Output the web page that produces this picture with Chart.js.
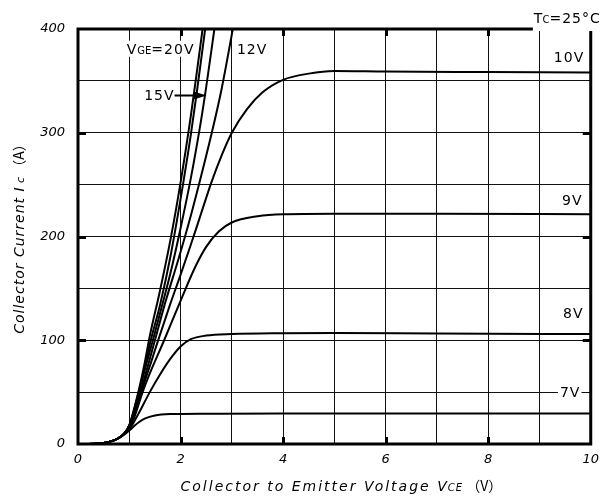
<!DOCTYPE html>
<html>
<head>
<meta charset="utf-8">
<script src="https://cdn.jsdelivr.net/npm/chart.js@4.4.1/dist/chart.umd.min.js"></script>
<style>
  html, body { margin: 0; padding: 0; background: #fff; }
  #wrap { width: 607px; height: 498px; }
</style>
</head>
<body>
<div id="wrap"><canvas id="ic-vce" width="607" height="498"></canvas></div>
<script>
// Ic - Vce output characteristics, one curve per gate voltage
const xTicks = [0, 2, 4, 6, 8, 10];
const yTicks = [0, 100, 200, 300, 400];

const vce20 = [0, 0.4, 0.6, 0.7, 0.8, 0.9, 1.0, 1.1, 1.2, 1.3, 1.4, 1.6, 1.8, 2.0, 2.2, 2.3, 2.43];
const ic20  = [0, 0.5, 2, 3.5, 6, 10, 18, 35, 55, 78, 104, 148, 196, 252, 316, 352, 400];

const vce17 = [0, 0.4, 0.6, 0.7, 0.8, 0.9, 1.0, 1.1, 1.2, 1.3, 1.42, 1.6, 1.8, 2.0, 2.2, 2.32, 2.48];
const ic17  = [0, 0.5, 2, 3.5, 6, 10, 18, 34, 53, 74, 100, 134, 180, 236, 298, 340, 400];

const vce15 = [0, 0.4, 0.6, 0.7, 0.8, 0.9, 1.0, 1.1, 1.2, 1.3, 1.46, 1.6, 1.8, 2.0, 2.2, 2.4, 2.5, 2.66];
const ic15  = [0, 0.5, 2, 3.5, 6, 10, 18, 33, 51, 71, 100, 126, 164, 208, 256, 312, 344, 400];

const vce12 = [0, 0.4, 0.6, 0.7, 0.8, 0.9, 1.0, 1.1, 1.2, 1.3, 1.5, 1.7, 1.97, 2.2, 2.4, 2.6, 2.8, 3.02];
const ic12  = [0, 0.5, 2, 3.5, 6, 10, 17, 31, 47, 64, 100, 136, 180, 220, 258, 298, 342, 400];

const vce10 = [0, 0.4, 0.6, 0.7, 0.8, 0.9, 1.0, 1.1, 1.2, 1.3, 1.42, 1.55, 1.8, 2.0, 2.2, 2.4, 2.6, 2.8, 3.0, 3.3, 3.6, 4.0, 4.5, 5.0, 6.0, 8.0, 10];
const ic10  = [0, 0.5, 2, 3.5, 6, 10, 16, 28, 43, 60, 78, 98, 135, 163, 192, 222, 252, 278, 300, 323, 339, 351, 357, 359.5, 359, 358.5, 358];

const vce9 = [0, 0.4, 0.6, 0.7, 0.8, 0.9, 1.0, 1.1, 1.26, 1.4, 1.68, 2.0, 2.3, 2.5, 2.75, 3.0, 3.5, 4.0, 5.0, 7.0, 10];
const ic9  = [0, 0.5, 2, 3.5, 6, 10, 15, 26, 50, 68, 100, 138, 172, 190, 205, 213.5, 219.5, 221.5, 222, 222, 221.5];

const vce8 = [0, 0.4, 0.6, 0.7, 0.8, 0.9, 1.0, 1.1, 1.2, 1.4, 1.6, 1.8, 2.0, 2.2, 2.5, 3.0, 4.0, 5.0, 7.0, 10];
const ic8  = [0, 0.5, 2, 3.5, 6, 9.5, 14, 22, 31, 50, 67, 82, 94, 101, 104.5, 106, 106.8, 107, 106.5, 106];

const vce7 = [0, 0.4, 0.6, 0.7, 0.8, 0.9, 1.0, 1.1, 1.2, 1.3, 1.5, 1.8, 2.5, 4.0, 10];
const ic7  = [0, 0.5, 2, 3.5, 6, 9, 13, 17.5, 21.5, 24.5, 27.5, 28.8, 29.2, 29.5, 29.5];

const gateVoltages = ['20V', '17V', '15V', '12V', '10V', '9V', '8V', '7V'];
const curves = [
  [vce20, ic20], [vce17, ic17], [vce15, ic15], [vce12, ic12],
  [vce10, ic10], [vce9, ic9], [vce8, ic8], [vce7, ic7]
];

const FONT = '"DejaVu Sans"';
const CJK = '"Noto Sans CJK JP"';

// text pieces with their own fonts, laid out along one baseline
function runsWidth(ctx, runs) {
  let w = 0;
  runs.forEach(r => {
    ctx.font = r.font;
    ctx.letterSpacing = r.spacing || '0px';
    r.w = ctx.measureText(r.text).width;
    w += r.w;
  });
  return w;
}
function drawRuns(ctx, runs, x, y, align) {
  const total = runsWidth(ctx, runs);
  let cx = align === 'center' ? x - total / 2 : align === 'right' ? x - total : x;
  runs.forEach(r => {
    ctx.font = r.font;
    ctx.letterSpacing = r.spacing || '0px';
    ctx.fillText(r.text, cx, y);
    cx += r.w;
  });
  ctx.letterSpacing = '0px';
  return total;
}

const big = `14px ${FONT}`;
const small = `10px ${FONT}`;
const sp = '1px';

// curve labels, anchored at (vce, ic): left edge / vertical middle
const notes = [
  { at: [0.95, 381], runs: [{ text: 'V', font: big, spacing: sp }, { text: 'GE', font: small }, { text: '=20V', font: big, spacing: sp }] },
  { at: [1.29, 336], runs: [{ text: '15V', font: big, spacing: sp }], arrowTo: 2.51 },
  { at: [3.10, 381], runs: [{ text: '12V', font: big, spacing: sp }] },
  { at: [9.28, 373], runs: [{ text: '10V', font: big, spacing: sp }] },
  { at: [9.44, 235], runs: [{ text: '9V', font: big, spacing: sp }] },
  { at: [9.46, 126], runs: [{ text: '8V', font: big, spacing: sp }] },
  { at: [9.40, 50], runs: [{ text: '7V', font: big, spacing: sp }] }
];

const decorations = {
  id: 'decorations',
  afterDatasetsDraw(chart) {
    const { ctx, chartArea: a, scales: { x, y } } = chart;
    ctx.save();

    // heavy frame
    ctx.strokeStyle = '#000';
    ctx.lineWidth = 3;
    ctx.strokeRect(a.left, a.top, a.right - a.left, a.bottom - a.top);

    // inward tick marks at labelled values
    ctx.beginPath();
    xTicks.slice(1, -1).forEach(v => {
      const px = Math.round(x.getPixelForValue(v)) + 0.5;
      ctx.moveTo(px, a.bottom); ctx.lineTo(px, a.bottom - 7);
      ctx.moveTo(px, a.top); ctx.lineTo(px, a.top + 7);
    });
    yTicks.slice(1, -1).forEach(v => {
      const py = Math.round(y.getPixelForValue(v)) + 0.5;
      ctx.moveTo(a.left, py); ctx.lineTo(a.left + 8, py);
      ctx.moveTo(a.right, py); ctx.lineTo(a.right - 8, py);
    });
    ctx.stroke();

    // curve labels on white
    ctx.textBaseline = 'alphabetic';
    ctx.fillStyle = '#000';
    notes.forEach(n => {
      const lx = x.getPixelForValue(n.at[0]);
      const ly = y.getPixelForValue(n.at[1]);
      const w = runsWidth(ctx, n.runs);
      ctx.fillStyle = '#fff';
      ctx.fillRect(lx - 2, ly - 8, w + 3, 16);
      ctx.fillStyle = '#000';
      drawRuns(ctx, n.runs, lx, ly + 5, 'left');
      if (n.arrowTo !== undefined) {
        const ax = x.getPixelForValue(n.arrowTo);
        const y0 = Math.round(ly) + 0.5;
        ctx.lineWidth = 2;
        ctx.beginPath();
        ctx.moveTo(lx + w, y0);
        ctx.lineTo(ax - 8, y0);
        ctx.stroke();
        ctx.beginPath();
        ctx.moveTo(ax, y0);
        ctx.lineTo(ax - 13, y0 - 4);
        ctx.lineTo(ax - 13, y0 + 4);
        ctx.closePath();
        ctx.fill();
      }
    });

    // case temperature, sitting over the top-right of the frame
    const tc = [{ text: 'T', font: big }, { text: 'C', font: small }, { text: '=25°C', font: big, spacing: sp }];
    const tw = runsWidth(ctx, tc);
    const tRight = a.right + 10;
    ctx.fillStyle = '#fff';
    ctx.fillRect(tRight - tw - 1, a.top - 22, tw + 8, 24);
    ctx.fillStyle = '#000';
    drawRuns(ctx, tc, tRight, a.top - 6, 'right');

    // axis titles
    const it = `italic 14px ${FONT}`;
    const itSmall = `italic 10px ${FONT}`;
    const paren = `14px ${CJK}`;
    drawRuns(ctx, [
      { text: 'Collector to Emitter Voltage ', font: it, spacing: '2px' },
      { text: 'V', font: it, spacing: '1px' },
      { text: 'CE', font: itSmall, spacing: '1px' },
      { text: ' （V）', font: paren }
    ], (a.left + a.right) / 2 + 7, 491, 'center');

    ctx.translate(24, (a.top + a.bottom) / 2 - 1);
    ctx.rotate(-Math.PI / 2);
    drawRuns(ctx, [
      { text: 'Collector Current ', font: it, spacing: '1px' },
      { text: 'I ', font: it },
      { text: 'c', font: `italic 11px ${FONT}` },
      { text: ' （A）', font: paren }
    ], 0, 0, 'center');

    ctx.restore();
  }
};

const tickFont = { family: FONT, style: 'italic', size: 13 };

new Chart(document.getElementById('ic-vce'), {
  type: 'line',
  data: {
    datasets: curves.map(([v, i], k) => ({
      label: gateVoltages[k],
      data: v.map((vx, j) => ({ x: vx, y: i[j] })),
      borderColor: '#000',
      borderWidth: 2,
      pointRadius: 0,
      fill: false,
      cubicInterpolationMode: 'monotone'
    }))
  },
  options: {
    responsive: false,
    animation: false,
    events: [],
    layout: { padding: { top: 29, right: 11, left: 0, bottom: 0 } },
    plugins: { legend: { display: false }, tooltip: { enabled: false } },
    scales: {
      x: {
        type: 'linear',
        min: 0,
        max: 10,
        ticks: {
          stepSize: 1,
          autoSkip: false,
          maxRotation: 0,
          padding: 8,
          color: '#000',
          font: tickFont,
          callback: v => (xTicks.includes(v) ? String(v) : '')
        },
        grid: { color: '#111', lineWidth: 1, drawTicks: false },
        border: { display: false },
        afterFit: s => { s.height = 54; }
      },
      y: {
        min: 0,
        max: 400,
        ticks: {
          stepSize: 50,
          autoSkip: false,
          padding: 13,
          color: '#000',
          font: tickFont,
          callback: v => (yTicks.includes(v) ? String(v) : '')
        },
        grid: { color: '#111', lineWidth: 1, drawTicks: false },
        border: { display: false },
        afterFit: s => { s.width = 78; }
      }
    }
  },
  plugins: [decorations]
});
</script>
</body>
</html>
